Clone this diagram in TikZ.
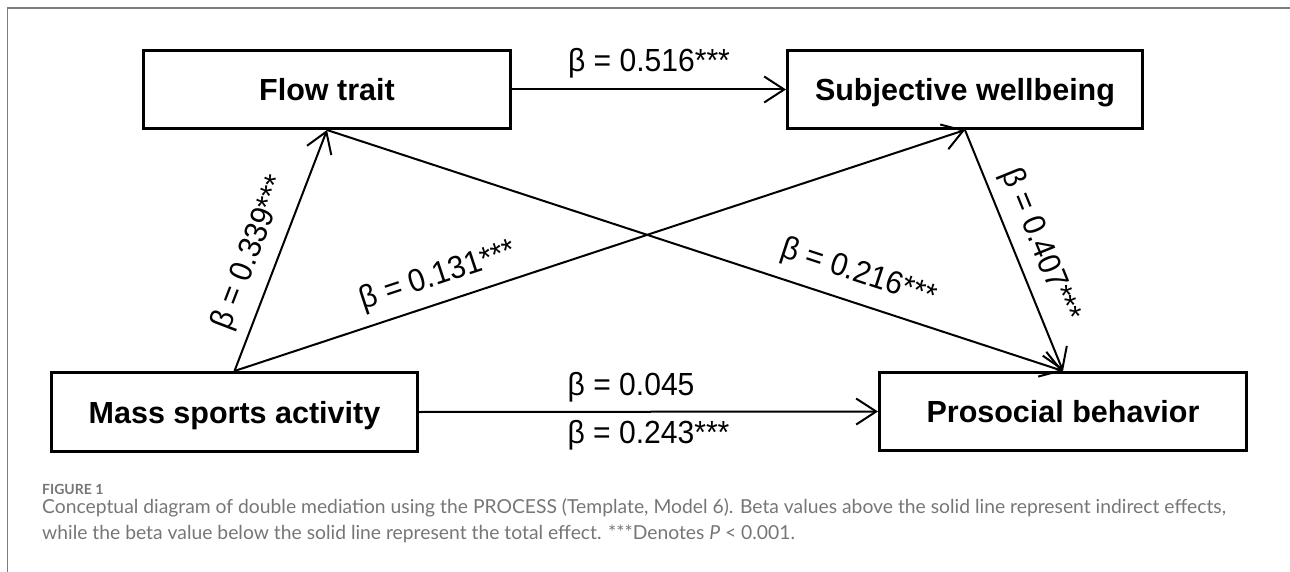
\documentclass[tikz,border=0pt]{standalone}
\usepackage{fontspec}
\setmainfont{Liberation Sans}
\newfontfamily\betafont[FakeStretch=0.94]{Liberation Sans}
\newfontfamily\capfont{Lato}
\usetikzlibrary{arrows.meta}
\definecolor{capgray}{RGB}{118,118,118}
\definecolor{framegray}{RGB}{125,125,125}
\begin{document}
\begin{tikzpicture}[x=1pt,y=-1pt,
  box/.style={draw, line width=3pt, minimum width=367pt, minimum height=78pt, inner sep=0pt,
    font=\fontsize{30.5}{36}\selectfont\bfseries, text height=22pt, text depth=0pt},
  link/.style={line width=2pt, -{Straight Barb[length=20pt,width=26pt]}},
  beta/.style={font=\betafont\fontsize{32}{38}\selectfont, inner sep=0pt},
  captext/.style={anchor=base west, inner sep=0pt, text=capgray, font=\capfont\fontsize{19.3}{23}\selectfont},
]
\useasboundingbox (0,0) rectangle (1290,572);
\draw[framegray, line width=1.2pt] (7.5,572) -- (7.5,8) -- (1290,8);

\node[box] (flow) at (327,89.5) {Flow trait};
\node[box, minimum width=355pt] (swb) at (965,89.5) {Subjective wellbeing};
\node[box, minimum width=366pt, minimum height=79pt] (mass) at (234.5,412) {Mass sports activity};
\node[box] (pro) at (1063,411.5) {Prosocial behavior};

\draw[link] (flow.east) -- (swb.west) node[beta, midway, above=10pt] {β = 0.516***};
\draw[link] (mass.north) -- (flow.south) node[beta, sloped, pos=0.45, above=11pt] {β = 0.339***};
\draw[link] (mass.north) -- (swb.south) node[beta, sloped, pos=0.29, above=10pt] {β = 0.131***};
\draw[link] (flow.south) -- (pro.north) node[beta, sloped, pos=0.71, above=13pt] {β = 0.216***};
\draw[link] (swb.south) -- (pro.north) node[beta, sloped, pos=0.52, above=10pt] {β = 0.407***};
\draw[link] (mass.east) -- (pro.west)
  node[beta, pos=0.462, above=9pt] {β = 0.045}
  node[beta, midway, below=8pt] {β = 0.243***};

\node[captext, font=\capfont\bfseries\fontsize{14}{16}\selectfont] (figlbl) at (42,494) {FIGURE 1};
\node[captext] (cap1) at (42,513) {Conceptual diagram of double mediation using the PROCESS (Template, Model 6). Beta values above the solid line represent indirect effects,};
\node[captext] (cap2) at (42,539) {while the beta value below the solid line represent the total effect. ***Denotes \textit{P} < 0.001.};
\end{tikzpicture}
\end{document}
